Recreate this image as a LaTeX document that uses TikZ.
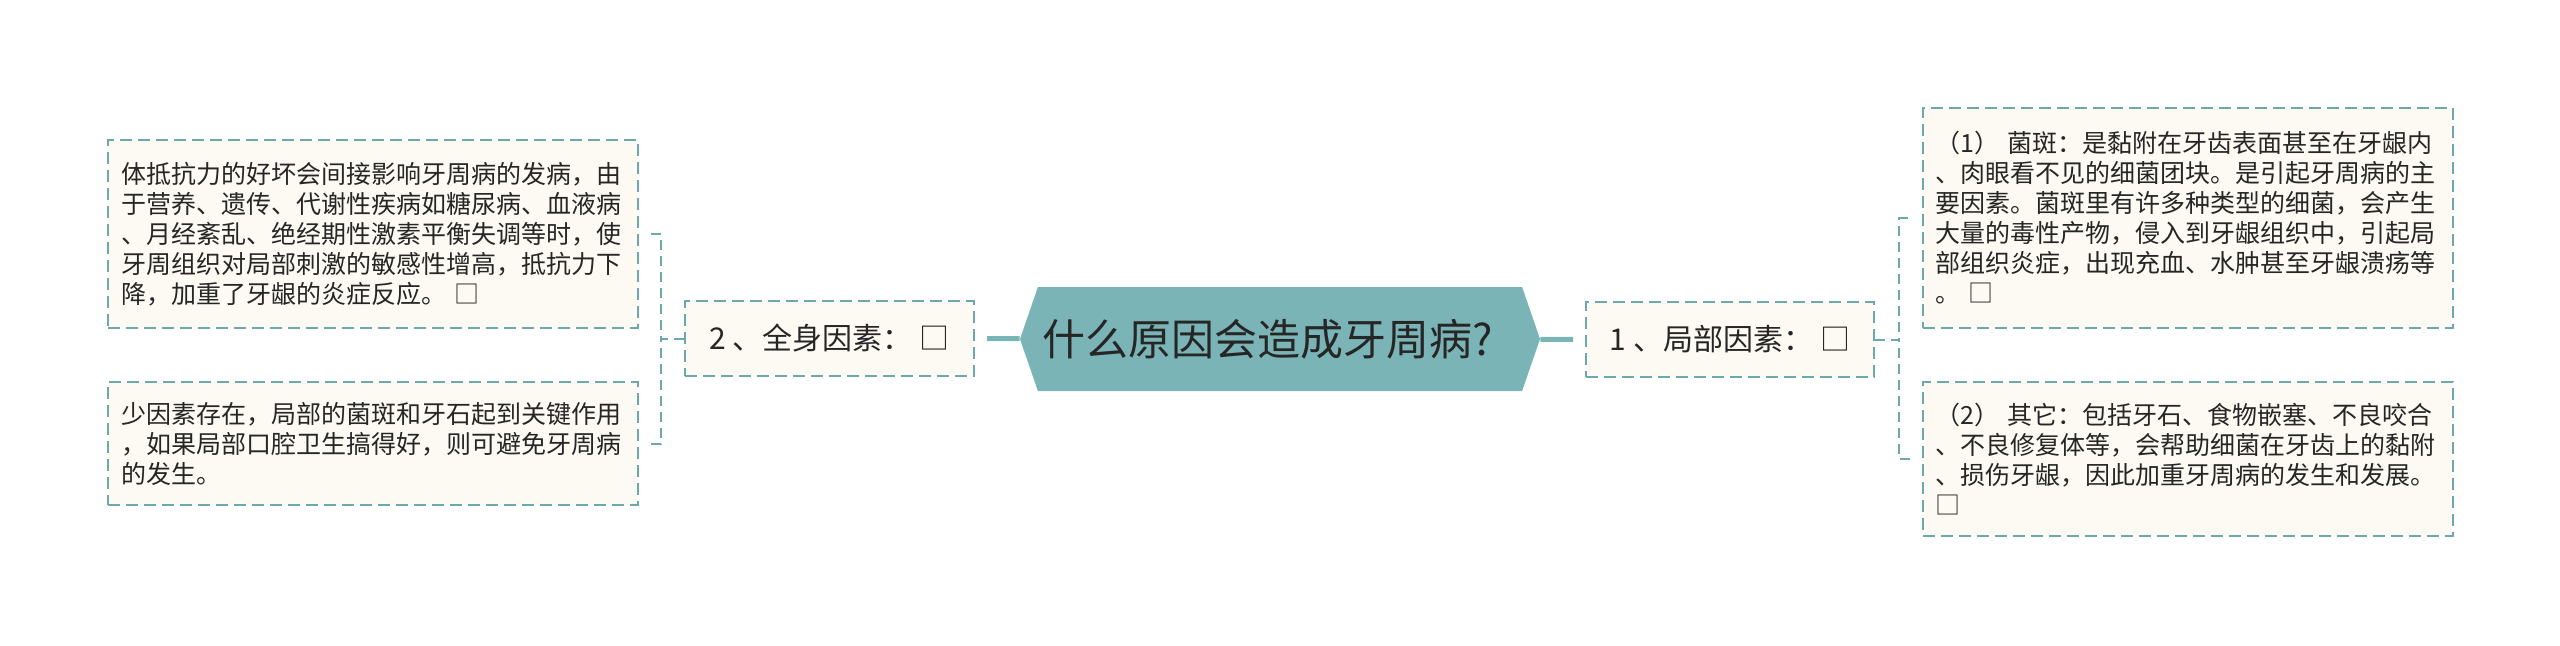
\documentclass[tikz,border=0pt]{standalone}
\usepackage{fontspec}
\newfontfamily\cjk{Noto Sans CJK SC}
\usetikzlibrary{shapes.symbols}
\definecolor{tealfill}{HTML}{7AB4B6}
\definecolor{tealline}{HTML}{6DA8AA}
\definecolor{boxfill}{HTML}{FCFAF2}
\definecolor{inktext}{HTML}{262626}
\tikzset{
  root/.style={signal, signal to=west and east, signal pointer angle=142,
    fill=tealfill, text=inktext, inner sep=0pt,
    font=\cjk\fontsize{21.5pt}{26pt}\selectfont},
  factor/.style={draw=tealline, line width=1pt, dash pattern=on 6pt off 3pt,
    fill=boxfill, text=inktext, inner sep=0pt,
    font=\cjk\fontsize{15pt}{18pt}\selectfont},
  leaf/.style={draw=tealline, line width=1pt, dash pattern=on 6pt off 3pt,
    fill=boxfill, text=inktext, align=left, text width=252pt,
    inner xsep=6.5pt, inner ysep=0pt,
    font=\cjk\fontsize{12.5pt}{15pt}\selectfont},
  trunk/.style={draw=tealfill, line width=2.5pt, shorten >=6pt},
  branch/.style={draw=tealline, line width=1pt, dash pattern=on 5pt off 3pt, shorten >=6pt}
}
\begin{document}
\begin{tikzpicture}[x=0.5pt,y=-0.5pt]
\useasboundingbox (0,0) rectangle (2560,645);

\node (root) at (1280,339) [root, minimum width=260pt, minimum height=52pt] {什么原因会造成牙周病?\kern12pt};

\node (sys) at (829.5,338.5) [factor, minimum width=144.5pt, minimum height=37.5pt] {2 、全身因素： □};
\node (loc) at (1730,339.5) [factor, minimum width=144pt, minimum height=37.5pt] {1 、局部因素： □};

\node (sysA) at (373,234) [leaf, minimum height=94pt] {%
体抵抗力的好坏会间接影响牙周病的发病，由\\
于营养、遗传、代谢性疾病如糖尿病、血液病\\
、月经紊乱、绝经期性激素平衡失调等时，使\\
牙周组织对局部刺激的敏感性增高，抵抗力下\\
降，加重了牙龈的炎症反应。 □};
\node (sysB) at (373,443.5) [leaf, minimum height=61.5pt] {%
少因素存在，局部的菌斑和牙石起到关键作用\\
，如果局部口腔卫生搞得好，则可避免牙周病\\
的发生。};

\node (locA) at (2187.5,218) [leaf, minimum height=110pt] {%
（1） 菌斑：是黏附在牙齿表面甚至在牙龈内\\
、肉眼看不见的细菌团块。是引起牙周病的主\\
要因素。菌斑里有许多种类型的细菌，会产生\\
大量的毒性产物，侵入到牙龈组织中，引起局\\
部组织炎症，出现充血、水肿甚至牙龈溃疡等\\
。 □};
\node (locB) at (2187.5,459) [leaf, minimum height=77pt] {%
（2） 其它：包括牙石、食物嵌塞、不良咬合\\
、不良修复体等，会帮助细菌在牙齿上的黏附\\
、损伤牙龈，因此加重牙周病的发生和发展。\\
 □};

\foreach \Target in {sys,loc}
  \draw[trunk] (root) -- (\Target);
\foreach \Source/\Target in {sys/sysA, sys/sysB}
  \draw[branch] (\Source.west) -- ++(-23,0) |- (\Target.east);
\foreach \Source/\Target in {loc/locA, loc/locB}
  \draw[branch] (\Source.east) -- ++(24,0) |- (\Target.west);
\end{tikzpicture}
\end{document}
